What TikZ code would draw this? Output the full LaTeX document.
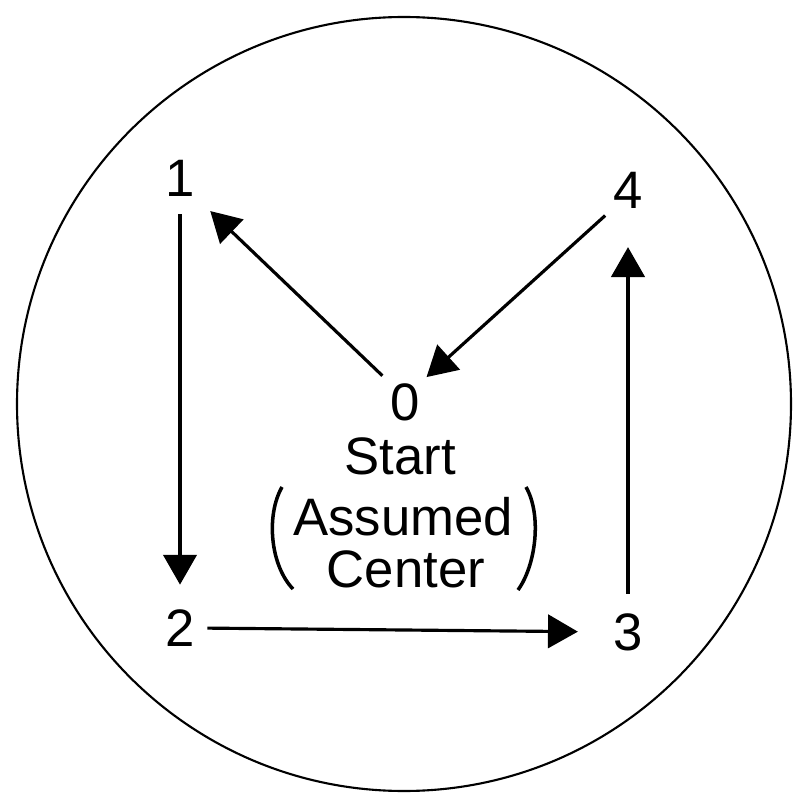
\documentclass[tikz,border=0pt]{standalone}
\usepackage{fontspec}
\setmainfont{Liberation Sans}
\usetikzlibrary{arrows.meta}

\begin{document}
\begin{tikzpicture}[
    x=0.02cm, y=-0.02cm,
    num/.style={inner sep=0pt, font=\fontsize{30}{34}\selectfont},
    lbl/.style={inner sep=0pt, font=\fontsize{30}{34}\selectfont},
    arrow/.style={-{Triangle[length=17pt, width=19pt]}, line width=1.8pt}
]
\useasboundingbox (0,0) rectangle (808,800);

% Outer circle
\draw[line width=1.2pt] (404,404) circle (387);

% Nodes
\node[num] (n1) at (180,178) {1};
\node[num] (n4) at (628,190) {4};
\node[num] (n0) at (405,402) {0};
\node[num] (n2) at (180,628) {2};
\node[num] (n3) at (628,632) {3};

% Label under the start point
\node[lbl] (start) at (400,456) {Start};
\node[lbl] (assumed) at (403,517) {Assumed};
\node[lbl] (center) at (406,569) {Center};
\draw[line width=2pt] (282,487) .. controls (266,515) and (270,565) .. (293,589);
\draw[line width=2pt] (526,487) .. controls (542,515) and (536,565) .. (518,590);

% Arrows
\draw[arrow, shorten <=6pt, shorten >=12pt] (n0.north west) -- (n1.south east);
\draw[arrow, shorten <=10pt, shorten >=14pt] (n1.south) -- (n2.north);
\draw[arrow, shorten <=7pt, shorten >=20pt] (n2.east) -- (n3.west);
\draw[arrow, shorten <=11pt, shorten >=22pt] (n3.north) -- (n4.south);
\draw[arrow, shorten <=6pt, shorten >=5pt] (n4.south west) -- (n0.north east);
\end{tikzpicture}
\end{document}
